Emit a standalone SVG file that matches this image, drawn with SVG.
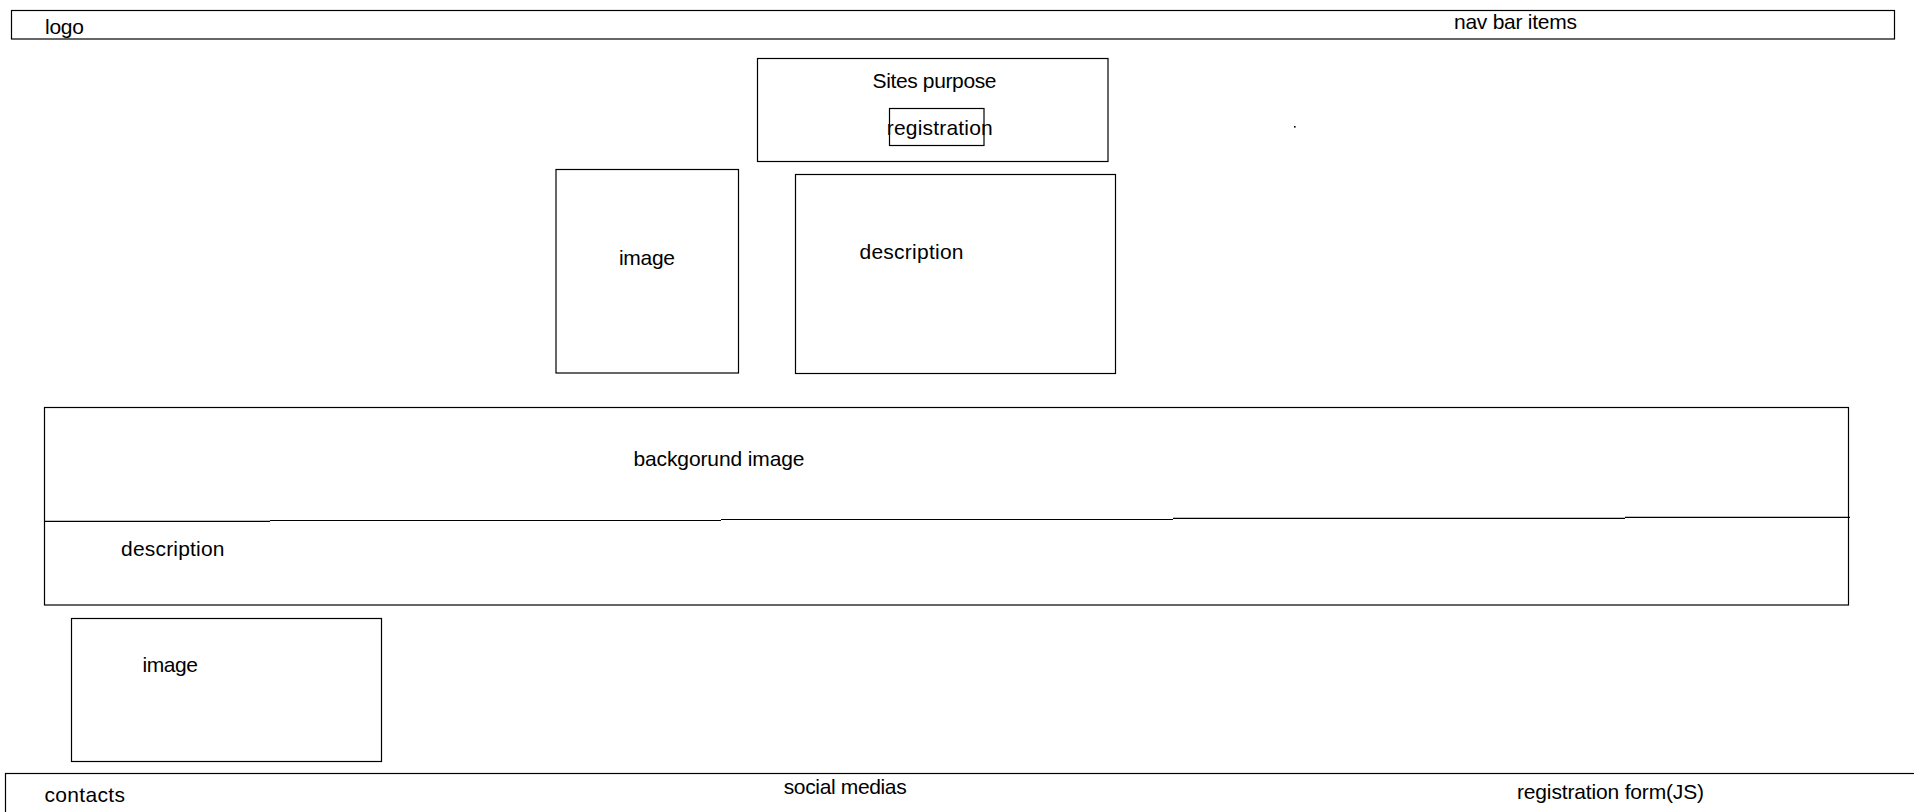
<svg xmlns="http://www.w3.org/2000/svg" width="1914" height="812" viewBox="0 0 1914 812">
<style>
.box{fill:none;stroke:#000;stroke-width:1.2}
.t{font-family:"Liberation Sans",Arial,sans-serif;font-size:21px;fill:#000}
</style>
<rect width="1914" height="812" fill="#fff"/>
<g id="navbar">
<rect class="box" x="11.5" y="10.5" width="1883" height="28.5"/>
<text class="t" x="45" y="33.5" textLength="39">logo</text>
<text class="t" x="1454" y="28.5" textLength="123">nav bar items</text>
</g>
<g id="purpose">
<rect class="box" x="757.5" y="58.5" width="350.5" height="103"/>
<text class="t" x="872.5" y="88" textLength="124">Sites purpose</text>
</g>
<g id="registration">
<rect class="box" x="889.5" y="108.5" width="94.5" height="37"/>
<text class="t" x="886.7" y="135" textLength="106">registration</text>
</g>
<g id="dot"><rect x="1294" y="126" width="1.6" height="1.6" fill="#000"/></g>
<g id="image1">
<rect class="box" x="556" y="169.5" width="182.5" height="203.5"/>
<text class="t" x="619" y="264.5" textLength="56">image</text>
</g>
<g id="description1">
<rect class="box" x="795.5" y="174.5" width="320" height="199"/>
<text class="t" x="859.5" y="259" textLength="104">description</text>
</g>
<g id="background">
<rect class="box" x="44.5" y="407.5" width="1804" height="197.5"/>
<text class="t" x="633.5" y="465.5" textLength="171">backgorund image</text>
<path class="box" d="M44.5 521.3H270M270 520.5H721M721 519.5H1173M1173 518.4H1625M1625 517.4H1850"/>
<text class="t" x="121" y="556" textLength="103.5">description</text>
</g>
<g id="image2">
<rect class="box" x="71.5" y="618.5" width="310" height="143"/>
<text class="t" x="142.5" y="671.5" textLength="55.5">image</text>
</g>
<g id="footer">
<rect class="box" x="5.5" y="773.5" width="1920" height="60"/>
<text class="t" x="44.5" y="801.5" textLength="80.5">contacts</text>
<text class="t" x="783.7" y="793.5" textLength="123">social medias</text>
<text class="t" x="1517" y="798.5" textLength="187">registration form(JS)</text>
</g>
<g id="connectors"></g>
</svg>
